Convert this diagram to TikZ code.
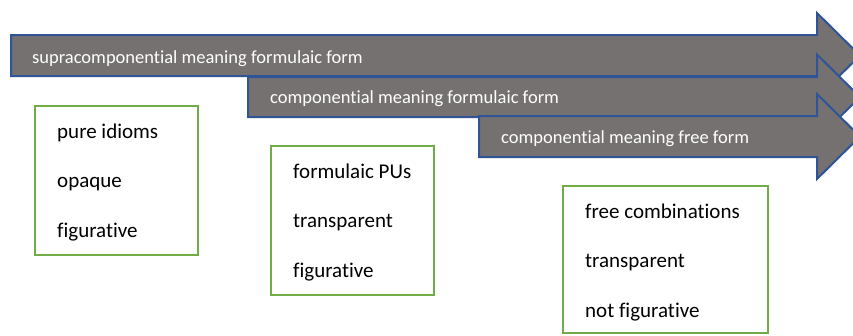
\documentclass[tikz,border=0pt]{standalone}
\usepackage{fontspec}
\setmainfont{Carlito}[Ligatures={NoCommon}]
\definecolor{cinzaseta}{RGB}{117,113,113}
\definecolor{azulseta}{RGB}{47,85,151}
\definecolor{verdecaixa}{RGB}{112,173,71}
\tikzset{
	seta/.style={fill=cinzaseta, draw=azulseta, line width=2pt, line join=miter},
	rotulo/.style={anchor=base west, text=white, inner sep=0pt, font=\fontsize{18.5}{20}\selectfont},
	caixa/.style={draw=verdecaixa, line width=2.2pt, inner sep=0pt},
	item/.style={anchor=base west, inner sep=0pt, font=\fontsize{21}{24}\selectfont}
}
\begin{document}
\begin{tikzpicture}[x=1pt,y=-1pt]
\clip (0,0) rectangle (853,335);
\useasboundingbox (0,0) rectangle (853,335);

% Setas
	\foreach \xa/\ya/\yb in {11/35/76, 248/77/117, 479/116/157} {
		\pgfmathsetmacro{\ym}{(\ya+\yb)/2}
		\draw[seta] (\xa,\ya) -- (817,\ya) -- (817,\ym-42.5) -- (860,\ym)
			-- (817,\ym+42.5) -- (817,\yb) -- (\xa,\yb) -- cycle;
	}

	\node[rotulo] (r1) at (32,63) {supracomponential meaning formulaic form};
	\node[rotulo] (r2) at (270,103) {componential meaning formulaic form};
	\node[rotulo] (r3) at (501,143) {componential meaning free form};

% Caixas
	\node[caixa, minimum width=163, minimum height=149] (c1) at (116.5,180.5) {};
	\node[caixa, minimum width=163, minimum height=149] (c2) at (352.5,220.5) {};
	\node[caixa, minimum width=205, minimum height=147] (c3) at (665.5,259.5) {};

	\foreach \t [count=\i] in {pure idioms, opaque, figurative}
		\node[item] (c1-\i) at (57,{138+49.5*(\i-1)}) {\t};

	\foreach \t [count=\i] in {formulaic PUs, transparent, figurative}
		\node[item] (c2-\i) at (293,{178+49.5*(\i-1)}) {\t};

	\foreach \t [count=\i] in {free combinations, transparent, not figurative}
		\node[item] (c3-\i) at (585,{218+49.5*(\i-1)}) {\t};
\end{tikzpicture}
\end{document}
